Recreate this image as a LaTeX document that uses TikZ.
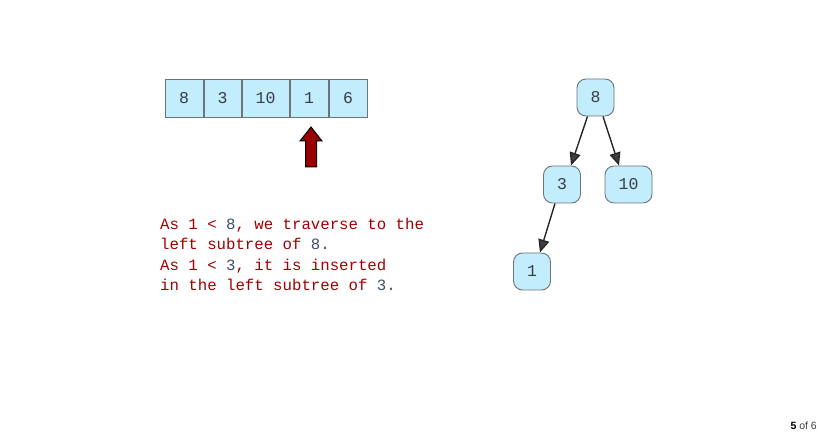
\documentclass[tikz,border=0pt]{standalone}
\usepackage{fontspec}
\setmainfont{Liberation Sans}
\newfontfamily\codefont{Liberation Mono}
\usetikzlibrary{arrows.meta}
\definecolor{cellfill}{HTML}{C2EDFC}
\definecolor{cellline}{HTML}{6E7378}
\definecolor{digitcol}{HTML}{3A3A48}
\definecolor{notecol}{HTML}{A00000}
\definecolor{numcol}{HTML}{3E4E6E}
\definecolor{arrowred}{HTML}{990000}
\tikzset{
  cell/.style={draw=cellline, fill=cellfill, line width=0.9pt, minimum height=38pt,
    inner sep=0pt, text=digitcol, font=\codefont\fontsize{16.5}{16.5}\selectfont},
  treenode/.style={draw=cellline, fill=cellfill, line width=0.9pt, rounded corners=9pt,
    minimum height=37pt, minimum width=37pt, inner sep=0pt, text=digitcol,
    font=\codefont\fontsize{16.5}{16.5}\selectfont},
  edge/.style={draw=black!85, line width=1.4pt,
    -{Triangle[length=13pt,width=11pt,fill=black!75]}},
  note/.style={anchor=base west, inner sep=0pt, text=notecol,
    font=\codefont\fontsize{15.7}{20.6}\selectfont},
}
\newcommand{\num}[1]{\textcolor{numcol}{#1}}
\begin{document}
\begin{tikzpicture}[x=1pt,y=-1pt]
  \useasboundingbox[fill=white] (0,0) rectangle (819,435);

  % array cells
  \node[cell, minimum width=38pt] (a8)  at (184,98)   {8};
  \node[cell, minimum width=37pt] (a3)  at (222.5,98) {3};
  \node[cell, minimum width=47pt] (a10) at (265.5,98) {10};
  \node[cell, minimum width=38pt] (a1)  at (309,98)   {1};
  \node[cell, minimum width=38pt] (a6)  at (348,98)   {6};

  % pointer under the current cell
  \draw[fill=arrowred, draw=black, line width=1pt, line join=miter]
    (311,127) -- (322,141) -- (316.5,141) -- (316.5,167) -- (305.5,167)
    -- (305.5,141) -- (300,141) -- cycle;

  % explanation, one node per line
  \node[note] (l1) at (160,230) {As 1 < \num{8}, we traverse to the};
  \node[note] (l2) at (160,250) {left subtree of \num{8.}};
  \node[note] (l3) at (160,271) {As 1 < \num{3}, it is inserted};
  \node[note] (l4) at (160,291) {in the left subtree of \num{3.}};

  % tree
  \node[treenode] (t8)  at (595.5,97.5) {8};
  \node[treenode] (t3)  at (562,184.5)  {3};
  \node[treenode, minimum width=47pt] (t10) at (628.5,184.5) {10};
  \node[treenode] (t1)  at (532,271.5)  {1};

  \draw[edge] ([xshift=-8pt]t8.south) -- ([xshift=9pt]t3.north);
  \draw[edge] ([xshift=7.5pt]t8.south) -- ([xshift=-9.5pt]t10.north);
  \draw[edge] ([xshift=-7pt]t3.south) -- ([xshift=8pt]t1.north);

  % slide counter
  \node[anchor=base east, inner sep=0pt, font=\fontsize{10.5}{12}\selectfont]
    (pg) at (817,429) {\textbf{5} \textcolor{black!75}{of 6}};
\end{tikzpicture}
\end{document}
